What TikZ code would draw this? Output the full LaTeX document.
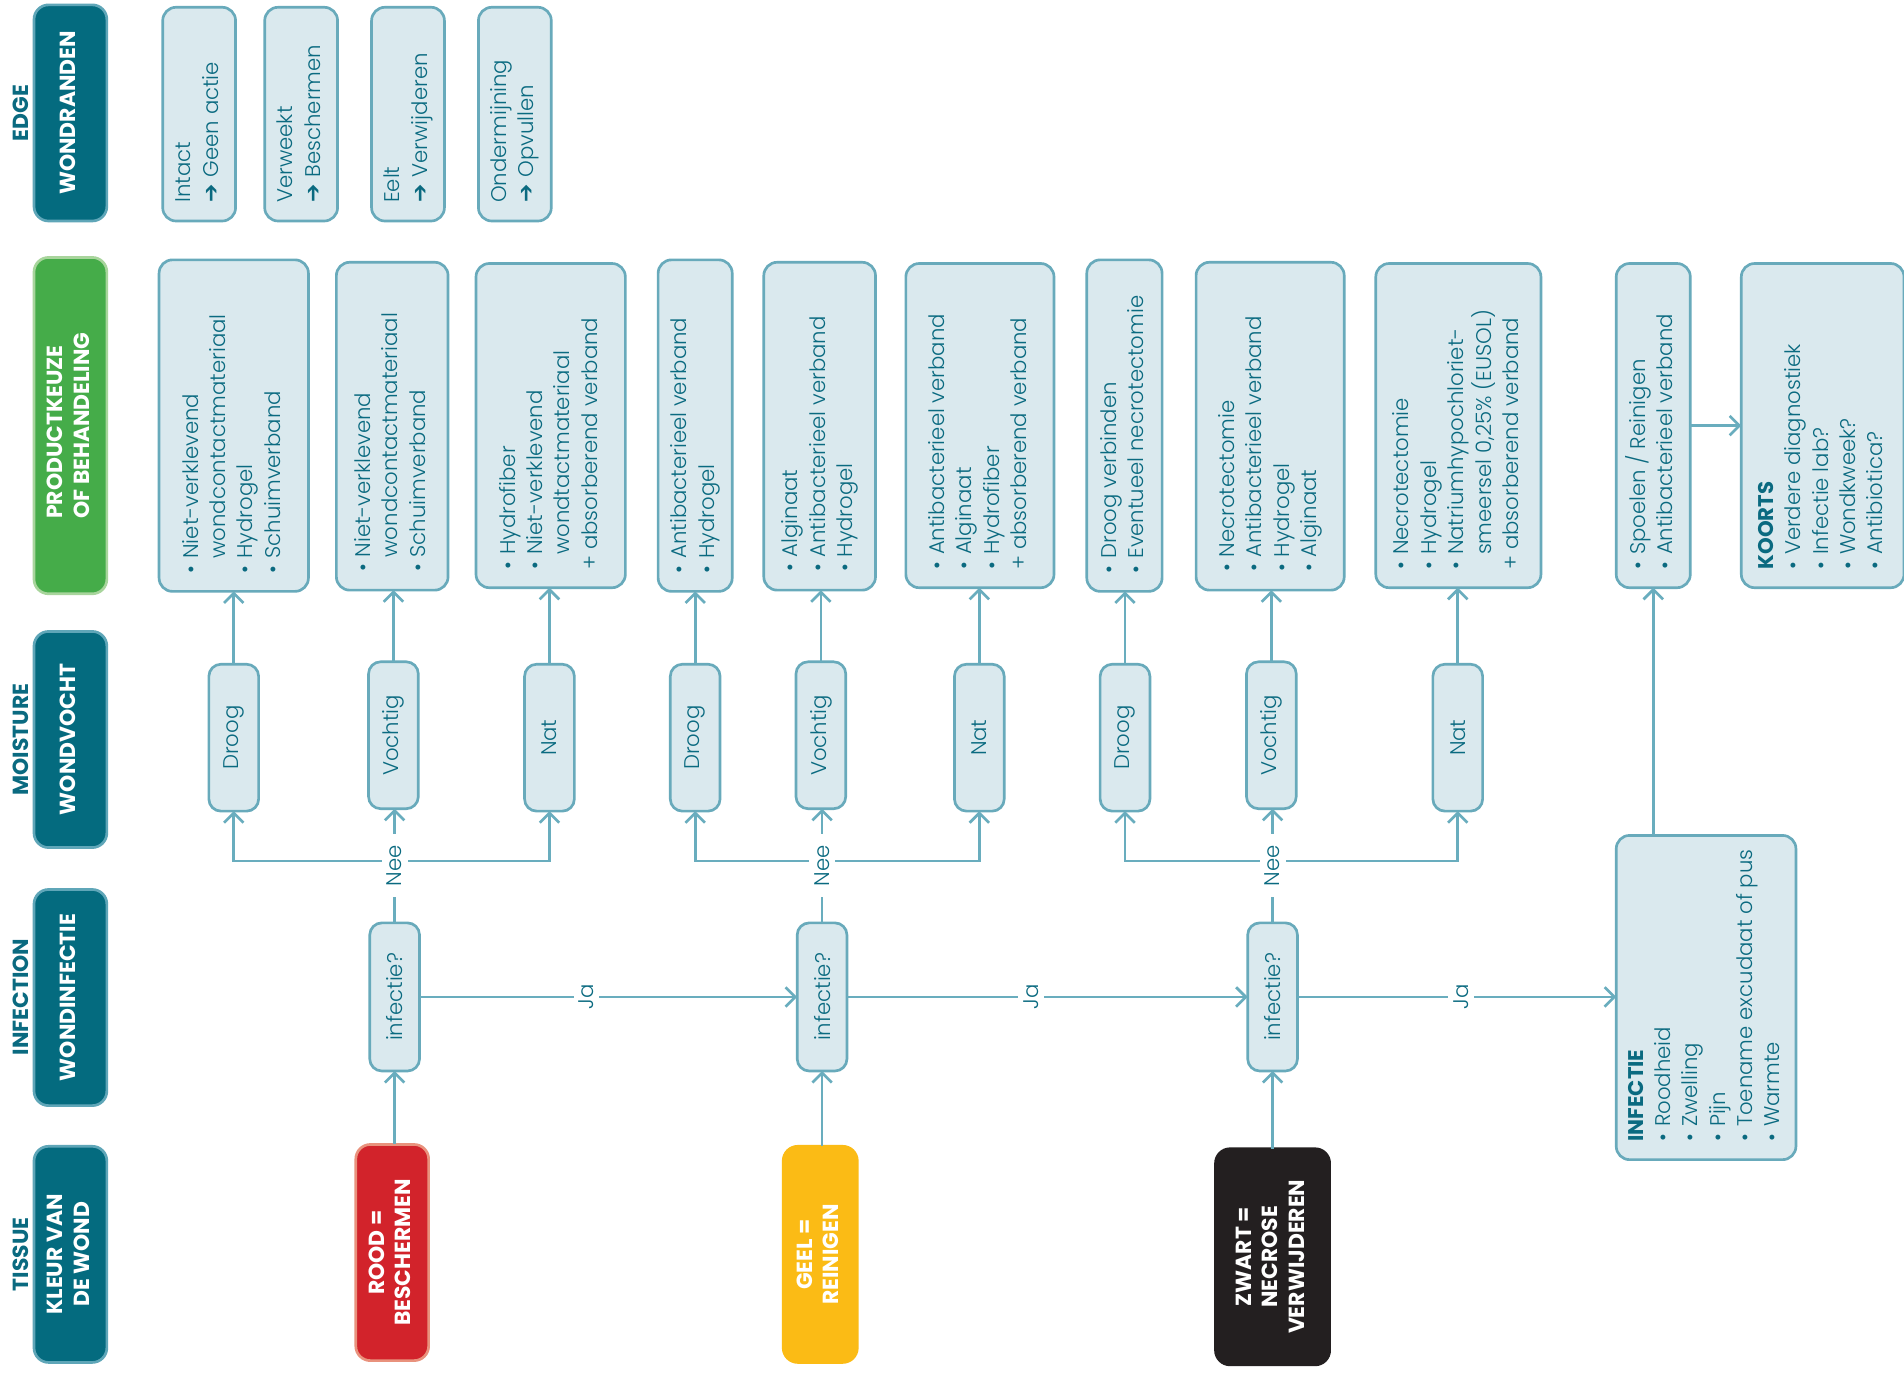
\documentclass[tikz,border=0pt]{standalone}
\usepackage{graphicx}
\usepackage{fontspec}
\setmainfont{Poppins}[UprightFont={* Light},BoldFont={* Bold}]
\newfontfamily\symfont{DejaVu Sans}
\usetikzlibrary{arrows.meta}

\definecolor{hdrteal}{HTML}{046B7F}
\definecolor{hdredge}{HTML}{5FA6B8}
\definecolor{boxfill}{HTML}{DAE9EE}
\definecolor{boxline}{HTML}{68AABB}
\definecolor{txtteal}{HTML}{0A6A80}
\definecolor{lncol}{HTML}{69ADBE}
\definecolor{grnfill}{HTML}{45AC49}
\definecolor{grnline}{HTML}{A8D59C}
\definecolor{redfill}{HTML}{D2232B}
\definecolor{redline}{HTML}{E9927D}
\definecolor{yelfill}{HTML}{FBBB15}
\definecolor{blkfill}{HTML}{231F20}

% bullet, continuation indent, edge-box arrow
\newcommand\bul{\makebox[12pt][l]{•}}
\newcommand\indt{\hspace*{12pt}}
\newcommand\edgearr{\makebox[21pt][l]{\symfont\bfseries\fontsize{18}{18}\selectfont ➔}}
% upward-reading text blocks
\newcommand\vtext[2]{\rotatebox{90}{\makebox[#1][l]{\begin{tabular}{@{}l@{}}#2\end{tabular}}}}
\newcommand\vctext[1]{\rotatebox{90}{\begin{tabular}{@{}c@{}}#1\end{tabular}}}
\newcommand\vltext[1]{\rotatebox{90}{\begin{tabular}{@{}l@{}}#1\end{tabular}}}

\begin{document}
\begin{tikzpicture}[x=1pt,y=-1pt,
  every node/.style={inner sep=0pt,outer sep=0pt},
  hdr/.style={draw=hdredge,fill=hdrteal,line width=2.2pt,rounded corners=12pt,
    text=white,font=\bfseries\fontsize{18}{22}\selectfont,
    minimum width=60pt,minimum height=178pt},
  side/.style={text=txtteal,font=\bfseries\fontsize{18}{22}\selectfont},
  lbox/.style={draw=boxline,fill=boxfill,line width=2.2pt,rounded corners=11pt,
    text=txtteal,font=\fontsize{17.5}{22.5}\selectfont},
  sbox/.style={lbox,rounded corners=10pt,minimum width=41pt,minimum height=121pt},
  tissue/.style={line width=2.2pt,rounded corners=12pt,text=white,
    font=\bfseries\fontsize{18}{22}\selectfont,minimum height=178pt},
  conn/.style={draw=lncol,line width=2.2pt},
  arr/.style={conn,-{Straight Barb[length=8pt,width=16pt]}},
  lbl/.style={fill=white,text=txtteal,font=\fontsize{17.5}{20}\selectfont,
    inner xsep=4.5pt,inner ysep=9pt},
]
\useasboundingbox (0,0) rectangle (1568,1132);
\fill[white] (0,0) rectangle (1568,1132);

% ---- row headers ----
\node[side] (sEdge) at (17,93) {\rotatebox{90}{EDGE}};
\node[side] (sMoist) at (17,609) {\rotatebox{90}{MOISTURE}};
\node[side] (sInf) at (17,821) {\rotatebox{90}{INFECTION}};
\node[side] (sTis) at (17,1033) {\rotatebox{90}{TISSUE}};

\node[hdr] (hEdge) at (58,93) {\vctext{WONDRANDEN}};
\node[hdr,fill=grnfill,draw=grnline,minimum height=277pt] (hProd) at (58,350.5)
  {\vltext{PRODUCTKEUZE\\OF BEHANDELING}};
\node[hdr] (hMoist) at (58,609) {\vctext{WONDVOCHT}};
\node[hdr] (hInf) at (58,821.5) {\vctext{WONDINFECTIE}};
\node[hdr] (hTis) at (58,1033) {\vctext{KLEUR VAN\\DE WOND}};

% ---- wound edges ----
\begin{scope}[every node/.append style={lbox,minimum width=60pt,minimum height=176pt}]
\node (e1) at (164,94) {\vtext{146pt}{Intact\\\edgearr Geen actie}};
\node (e2) at (248,94) {\vtext{146pt}{Verweekt\\\edgearr Beschermen}};
\node (e3) at (336,94) {\vtext{146pt}{Eelt\\\edgearr Verwijderen}};
\node (e4) at (424,94) {\vtext{146pt}{Ondermijning\\\edgearr Opvullen}};
\end{scope}

% ---- products ----
\node[lbox,minimum width=123pt,minimum height=273pt] (p1) at (192.5,350.5)
  {\vtext{243pt}{\bul Niet-verklevend\\\indt wondcontactmateriaal\\\bul Hydrogel\\\bul Schuimverband}};
\node[lbox,minimum width=92pt,minimum height=270pt] (p2) at (323,351)
  {\vtext{240pt}{\bul Niet-verklevend\\\indt wondcontactmateriaal\\\bul Schuimverband}};
\node[lbox,minimum width=123pt,minimum height=267pt] (p3) at (453.5,350.5)
  {\vtext{237pt}{\bul Hydrofiber\\\bul Niet-verklevend\\\indt wondtactmateriaal\\+ absorberend verband}};
\node[lbox,minimum width=61pt,minimum height=273pt] (p4) at (572.5,350.5)
  {\vtext{243pt}{\bul Antibacterieel verband\\\bul Hydrogel}};
\node[lbox,minimum width=92pt,minimum height=270pt] (p5) at (675,351)
  {\vtext{240pt}{\bul Alginaat\\\bul Antibacterieel verband\\\bul Hydrogel}};
\node[lbox,minimum width=122pt,minimum height=267pt] (p6) at (807,350.5)
  {\vtext{237pt}{\bul Antibacterieel verband\\\bul Alginaat\\\bul Hydrofiber\\+ absorberend verband}};
\node[lbox,minimum width=62pt,minimum height=273pt] (p7) at (926,350.5)
  {\vtext{243pt}{\bul Droog verbinden\\\bul Eventueel necrotectomie}};
\node[lbox,minimum width=122pt,minimum height=270pt] (p8) at (1046,351)
  {\vtext{240pt}{\bul Necrotectomie\\\bul Antibacterieel verband\\\bul Hydrogel\\\bul Alginaat}};
\node[lbox,minimum width=136pt,minimum height=267pt] (p9) at (1201,350.5)
  {\vtext{237pt}{\bul Necrotectomie\\\bul Hydrogel\\\bul Natriumhypochloriet-\\\indt smeersel 0,25\% (EUSOL)\\+ absorberend verband}};
\node[lbox,minimum width=61pt,minimum height=267pt] (sp) at (1361.5,350.5)
  {\vtext{237pt}{\bul Spoelen / Reinigen\\\bul Antibacterieel verband}};
\node[lbox,minimum width=134pt,minimum height=267pt] (ko) at (1501,350.5)
  {\vtext{237pt}{\textbf{KOORTS}\\\bul Verdere diagnostiek\\\bul Infectie lab?\\\bul Wondkweek?\\\bul Antibiotica?}};

% ---- moisture ----
\node[sbox] (m1) at (192.5,607.5) {\rotatebox{90}{Droog}};
\node[sbox] (m2) at (324,605.5) {\rotatebox{90}{Vochtig}};
\node[sbox] (m3) at (452.5,607.5) {\rotatebox{90}{Nat}};
\node[sbox] (m4) at (572.5,607.5) {\rotatebox{90}{Droog}};
\node[sbox] (m5) at (676,605.5) {\rotatebox{90}{Vochtig}};
\node[sbox] (m6) at (806.5,607.5) {\rotatebox{90}{Nat}};
\node[sbox] (m7) at (926.5,607.5) {\rotatebox{90}{Droog}};
\node[sbox] (m8) at (1047,605.5) {\rotatebox{90}{Vochtig}};
\node[sbox] (m9) at (1200.5,607.5) {\rotatebox{90}{Nat}};

% ---- infection questions ----
\node[sbox,minimum height=122pt] (i1) at (325,821) {\rotatebox{90}{infectie?}};
\node[sbox,minimum height=122pt] (i2) at (677,821) {\rotatebox{90}{infectie?}};
\node[sbox,minimum height=122pt] (i3) at (1048,821) {\rotatebox{90}{infectie?}};

\node[lbox,minimum width=148pt,minimum height=267pt] (inf) at (1405,821.5)
  {\vtext{237pt}{\textbf{INFECTIE}\\\bul Roodheid\\\bul Zwelling\\\bul Pijn\\\bul Toename excudaat of pus\\\bul Warmte}};

% ---- tissue colours ----
\node[tissue,fill=redfill,draw=redline,minimum width=60pt] (t1) at (323,1031.5)
  {\vctext{ROOD =\\BESCHERMEN}};
\node[tissue,fill=yelfill,draw=yelfill,minimum width=61pt] (t2) at (675.5,1033)
  {\vctext{GEEL =\\REINIGEN}};
\node[tissue,fill=blkfill,draw=blkfill,minimum width=94pt] (t3) at (1048,1035)
  {\vctext{ZWART =\\NECROSE\\VERWIJDEREN}};

% ---- junctions of the "Nee" branches ----
\coordinate (j1) at (325,709);
\coordinate (j2) at (677,709);
\coordinate (j3) at (1048,709);

% ---- connectors ----
\foreach \m/\p in {m1/p1,m2/p2,m3/p3,m4/p4,m5/p5,m6/p6,m7/p7,m8/p8,m9/p9}
  \draw[arr] (\m.north) -- (\m.north |- \p.south);

\foreach \i/\t in {i1/t1,i2/t2,i3/t3}
  \draw[arr] (\i.south |- \t.north) -- (\i.south);

\draw[arr] (i1.north) -- (i1.north |- m2.south);
\draw[arr] (j1) -| (m1.south);
\draw[arr] (j1) -| (m3.south);
\draw[arr] (i2.north) -- (i2.north |- m5.south);
\draw[arr] (j2) -| (m4.south);
\draw[arr] (j2) -| (m6.south);
\draw[arr] (i3.north) -- (i3.north |- m8.south);
\draw[arr] (j3) -| (m7.south);
\draw[arr] (j3) -| (m9.south);

\draw[arr] (i1.east) -- (i2.west);
\draw[arr] (i2.east) -- (i3.west);
\draw[arr] (i3.east) -- (i3.east -| inf.west);
\draw[arr] (inf.north -| sp.south) -- (sp.south);
\draw[arr] (sp.east) -- (sp.east -| ko.west);

% ---- branch labels ----
\node[lbl] (n1) at (325,713) {\rotatebox{90}{Nee}};
\node[lbl] (n2) at (677,713) {\rotatebox{90}{Nee}};
\node[lbl] (n3) at (1048,713) {\rotatebox{90}{Nee}};
\node[lbl] (ja1) at (483,821) {\rotatebox{90}{Ja}};
\node[lbl] (ja2) at (849,821) {\rotatebox{90}{Ja}};
\node[lbl] (ja3) at (1203,821) {\rotatebox{90}{Ja}};
\end{tikzpicture}
\end{document}
